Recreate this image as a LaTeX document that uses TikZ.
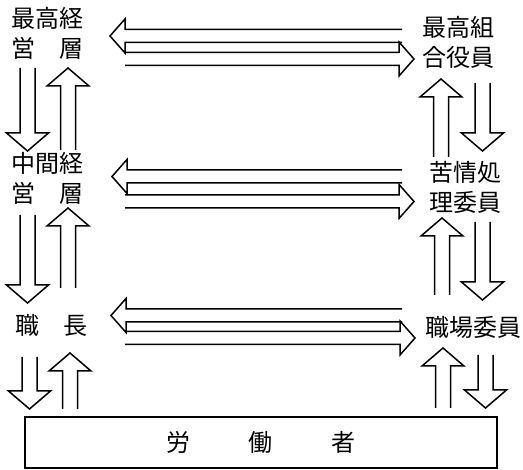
\documentclass[tikz,border=0pt]{standalone}
\usepackage{fontspec}
\setmainfont{Noto Sans CJK JP}
\usetikzlibrary{calc}
\tikzset{
  lbl/.style={align=center, inner sep=0pt, font=\fontsize{24}{30}\selectfont},
  fat/.style={line width=1.5pt, line join=miter},
  workerbox/.style={draw, line width=1.5pt, minimum width=472pt, minimum height=51pt, inner sep=0pt, font=\fontsize{24}{30}\selectfont},
}
% #1 tail, #2 tip, #3 shaft half width, #4 head half width, #5 head length
\newcommand{\fatarrow}[5]{%
  \path ($(#2)!#5!(#1)$) coordinate (fb);
  \draw[fat] ($(#1)!#3!90:(#2)$) -- ($(fb)!#3!-90:(#1)$) -- ($(fb)!#4!-90:(#1)$) -- (#2)
     -- ($(fb)!#4!90:(#1)$) -- ($(fb)!#3!90:(#1)$) -- ($(#1)!#3!-90:(#2)$);
}
\begin{document}
\begin{tikzpicture}[x=1pt,y=-1pt]
\useasboundingbox (0,0) rectangle (523,470);
% labels
\node[lbl] (tl) at (47.5,33) {最高経\\営　層};
\node[lbl] (ml) at (47.5,178.5) {中間経\\営　層};
\node[lbl] (bl) at (51.5,325) {職　長};
\node[lbl] (tr) at (458.5,42) {最高組\\合役員};
\node[lbl] (mr) at (465.5,187.5) {苦情処\\理委員};
\node[lbl] (br) at (473.5,327) {職場委員};
\node[workerbox] (wk) at (261,442.5) {労\hspace{59pt}働\hspace{59pt}者};
% arrow end points
\coordinate (h1a) at (402,36);    \coordinate (h1b) at (110,36);
\coordinate (h2a) at (125,59);    \coordinate (h2b) at (414,59);
\coordinate (h3a) at (402,176.5); \coordinate (h3b) at (112,176.5);
\coordinate (h4a) at (125,201.5); \coordinate (h4b) at (414,201.5);
\coordinate (h5a) at (402,315.5); \coordinate (h5b) at (111,315.5);
\coordinate (h6a) at (125,338);   \coordinate (h6b) at (415,338);
\coordinate (v1a) at (27.5,68);   \coordinate (v1b) at (27.5,151);
\coordinate (v2a) at (68,150);    \coordinate (v2b) at (68,68);
\coordinate (v3a) at (27.5,215);  \coordinate (v3b) at (27.5,303);
\coordinate (v4a) at (68,288);    \coordinate (v4b) at (68,208);
\coordinate (v5a) at (29.5,357);  \coordinate (v5b) at (29.5,409);
\coordinate (v6a) at (70,409);    \coordinate (v6b) at (70,353);
\coordinate (v7a) at (441,157);   \coordinate (v7b) at (441,79);
\coordinate (v8a) at (482.5,83);  \coordinate (v8b) at (482.5,151);
\coordinate (v9a) at (442,295);   \coordinate (v9b) at (442,218);
\coordinate (v10a) at (482.5,222); \coordinate (v10b) at (482.5,300);
\coordinate (v11a) at (443,408);  \coordinate (v11b) at (443,348);
\coordinate (v12a) at (485.5,355); \coordinate (v12b) at (485.5,408);
% horizontal arrows
\foreach \n in {h1,h2,h3,h4,h5,h6}{\fatarrow{\n a}{\n b}{6.5pt}{17pt}{15pt}}
% vertical arrows
\foreach \n in {v1,v2,v3,v4,v5,v6,v7,v8,v9,v10,v11,v12}{\fatarrow{\n a}{\n b}{7.5pt}{21pt}{18pt}}
\end{tikzpicture}
\end{document}
